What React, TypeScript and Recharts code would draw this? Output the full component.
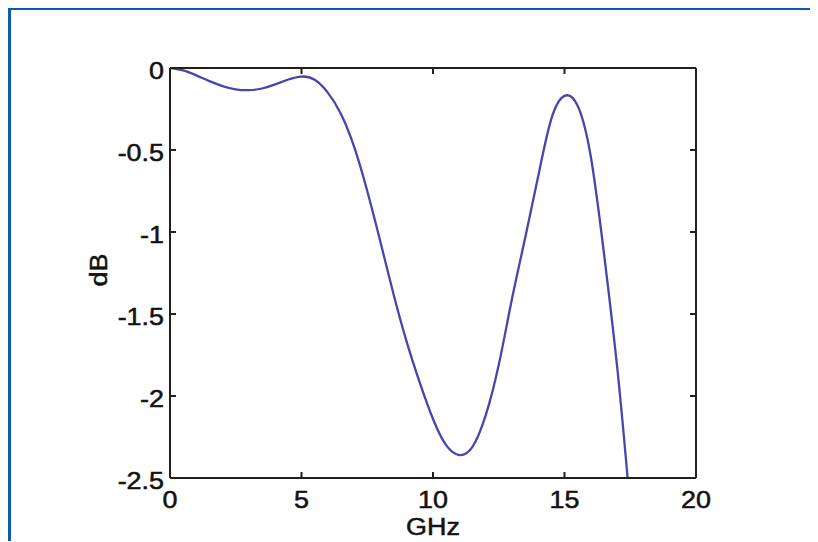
import React from "react";
import { LineChart, Line, XAxis, YAxis, Label } from "recharts";

const freqGHz = [0, 0.5, 1, 1.5, 2, 2.5, 3, 3.5, 4, 4.5, 5, 5.5, 6, 6.5, 7, 7.5, 8, 8.5, 9, 9.5, 10, 10.5, 11, 11.5, 12, 12.5, 13, 13.5, 14, 14.5, 15, 15.5, 16, 16.5, 17, 17.4];
const lossDB = [0, -0.015, -0.045, -0.08, -0.11, -0.13, -0.135, -0.125, -0.1, -0.07, -0.052, -0.072, -0.15, -0.28, -0.48, -0.75, -1.06, -1.38, -1.67, -1.92, -2.14, -2.3, -2.36, -2.31, -2.12, -1.81, -1.41, -1.04, -0.66, -0.31, -0.17, -0.23, -0.54, -1.13, -1.82, -2.5];
const xTicks = [0, 5, 10, 15, 20];
const yTicks = [0, -0.5, -1, -1.5, -2, -2.5];

const data = freqGHz.map((f, i) => ({ f, db: lossDB[i] }));

const FONT = "'Liberation Sans', Arial, Helvetica, sans-serif";
const AX = "#231f1c";
const TXT = "#141210";
const SX = 1.17;
const TL = 6;
const OFF = 1;

const txtProps = {
  fontFamily: FONT,
  fontSize: 23,
  fill: TXT,
  stroke: TXT,
  strokeWidth: 0.5,
};

const BottomTick = (props: any) => {
  const { x, payload } = props;
  const y = props.y - OFF;
  return (
    <g>
      <line x1={x} y1={y} x2={x} y2={y - TL} stroke={AX} strokeWidth={2} />
      <g transform={`translate(${x},${y + 30}) scale(${SX},1)`}>
        <text x={0} y={0} textAnchor="middle" {...txtProps}>
          {payload.value}
        </text>
      </g>
    </g>
  );
};

const LeftTick = (props: any) => {
  const { y, payload } = props;
  const x = props.x + OFF;
  return (
    <g>
      <line x1={x} y1={y} x2={x + TL} y2={y} stroke={AX} strokeWidth={2} />
      <g transform={`translate(${x - 6},${y + 10.5}) scale(${SX},1)`}>
        <text x={0} y={0} textAnchor="end" {...txtProps}>
          {payload.value}
        </text>
      </g>
    </g>
  );
};

const TopTick = (props: any) => {
  const { x } = props;
  const y = props.y + OFF;
  return <line x1={x} y1={y} x2={x} y2={y + TL} stroke={AX} strokeWidth={2} />;
};

const RightTick = (props: any) => {
  const { y } = props;
  const x = props.x - OFF;
  return <line x1={x} y1={y} x2={x - TL} y2={y} stroke={AX} strokeWidth={2} />;
};

const XLabel = (props: any) => {
  const vb = props.viewBox || { x: 162, y: 470, width: 526 };
  const cx = vb.x + vb.width / 2;
  return (
    <g transform={`translate(${cx},${vb.y + 57}) scale(${SX},1)`}>
      <text x={0} y={0} textAnchor="middle" {...txtProps}>
        GHz
      </text>
    </g>
  );
};

const YLabel = (props: any) => {
  const vb = props.viewBox || { x: 102, y: 60, width: 60, height: 410 };
  const cy = vb.y + vb.height / 2 - 3;
  return (
    <g transform={`translate(99,${cy}) rotate(-90) scale(${SX},1)`}>
      <text x={0} y={0} textAnchor="middle" {...txtProps}>
        dB
      </text>
    </g>
  );
};

export default function App() {
  return (
    <div style={{ position: "relative", width: 810, height: 534, marginTop: -1 }}>
      <div
        style={{
          position: "absolute",
          left: 0,
          top: 0,
          width: 810,
          height: 534,
          borderTop: "3px solid #0b5cad",
          borderLeft: "3px solid #0b5cad",
          boxSizing: "border-box",
        }}
      />
      <div style={{ position: "absolute", left: 0, top: 1 }}>
        <LineChart
          width={810}
          height={534}
          data={data}
          margin={{ top: 59, right: 121, left: 102, bottom: 34 }}
        >
          <XAxis
            xAxisId="b"
            dataKey="f"
            type="number"
            domain={[0, 20]}
            ticks={xTicks}
            allowDataOverflow
            height={30}
            tickSize={OFF}
            tickMargin={0}
            tickLine={false}
            axisLine={{ stroke: AX, strokeWidth: 2 }}
            tick={<BottomTick />}
            interval={0}
          >
            <Label content={<XLabel />} />
          </XAxis>
          <XAxis
            xAxisId="t"
            orientation="top"
            dataKey="f"
            type="number"
            domain={[0, 20]}
            ticks={xTicks}
            allowDataOverflow
            height={1}
            tickSize={OFF}
            tickMargin={0}
            tickLine={false}
            axisLine={{ stroke: AX, strokeWidth: 2 }}
            tick={<TopTick />}
            interval={0}
          />
          <YAxis
            yAxisId="l"
            type="number"
            domain={[-2.5, 0]}
            ticks={yTicks}
            allowDataOverflow
            width={60}
            tickSize={OFF}
            tickMargin={0}
            tickLine={false}
            axisLine={{ stroke: AX, strokeWidth: 2 }}
            tick={<LeftTick />}
            interval={0}
          >
            <Label content={<YLabel />} />
          </YAxis>
          <YAxis
            yAxisId="r"
            orientation="right"
            type="number"
            domain={[-2.5, 0]}
            ticks={yTicks}
            allowDataOverflow
            width={1}
            tickSize={OFF}
            tickMargin={0}
            tickLine={false}
            axisLine={{ stroke: AX, strokeWidth: 2 }}
            tick={<RightTick />}
            interval={0}
          />
          <Line
            xAxisId="b"
            yAxisId="l"
            type="natural"
            dataKey="db"
            stroke="#4746ad"
            strokeWidth={2.3}
            dot={false}
            isAnimationActive={false}
          />
        </LineChart>
      </div>
    </div>
  );
}
